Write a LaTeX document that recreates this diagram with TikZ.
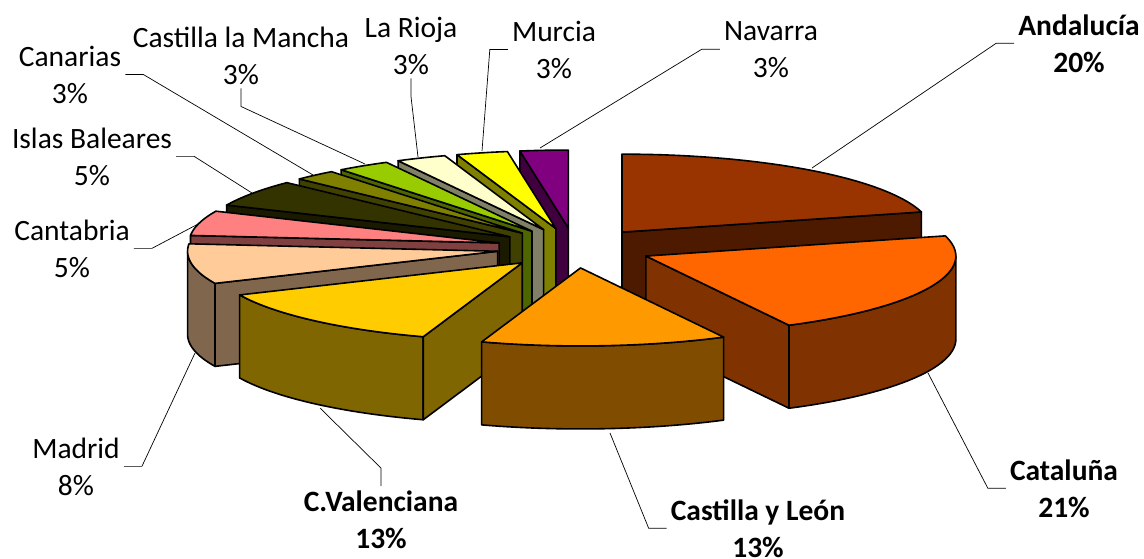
\documentclass[tikz,border=0pt]{standalone}
\usepackage{fontspec}
\setmainfont{Carlito}
\usepackage{tikz}
\definecolor{andtop}{HTML}{993300}\definecolor{andside}{HTML}{4D1A00}
\definecolor{cattop}{HTML}{FF6600}\definecolor{catside}{HTML}{803300}
\definecolor{cyltop}{HTML}{FF9900}\definecolor{cylside}{HTML}{804C00}
\definecolor{cvatop}{HTML}{FFCC00}\definecolor{cvaside}{HTML}{806600}
\definecolor{madtop}{HTML}{FFCC99}\definecolor{madside}{HTML}{80664D}
\definecolor{canttop}{HTML}{FF8080}\definecolor{cantside}{HTML}{804040}
\definecolor{ibtop}{HTML}{333300}\definecolor{ibside}{HTML}{1A1A00}
\definecolor{cantop}{HTML}{808000}\definecolor{canside}{HTML}{404000}
\definecolor{clmtop}{HTML}{99CC00}\definecolor{clmside}{HTML}{4D6600}
\definecolor{lrtop}{HTML}{FFFFCC}\definecolor{lrside}{HTML}{808066}
\definecolor{murtop}{HTML}{FFFF00}\definecolor{murside}{HTML}{808000}
\definecolor{navtop}{HTML}{800080}\definecolor{navside}{HTML}{400040}
\tikzset{
	every node/.style = {font=\fontsize{29.5}{37}\selectfont},
	lbl/.style = {align=center, anchor=base, inner sep=4pt},
	bold/.style = {font=\fontsize{29.5}{37}\selectfont\bfseries},
	slice/.style = {draw=black, line width=1.6pt, line join=round},
	leader/.style = {draw=black, line width=0.7pt}
}
\begin{document}
\begin{tikzpicture}[x=1pt, y=-1pt]
		\useasboundingbox (0,0) rectangle (1144,558);
		% slices, back to front
		\foreach \a/\b/\tc/\sc in {351/360/navtop/navside, 341.4/351/murtop/murside,
			332/341.4/lrtop/lrside, 322/332/clmtop/clmside, 314/322/cantop/canside,
			294/314/ibtop/ibside, 275.5/294/canttop/cantside, 245.7/275.5/madtop/madside,
			0/75/andtop/andside, 75/152.5/cattop/catside, 198.6/245.7/cvatop/cvaside,
			152.5/198.6/cyltop/cylside}{
			\pgfmathsetmacro\cx{574.5+78*sin((\a+\b)/2)}
			\pgfmathsetmacro\cy{248-20*cos((\a+\b)/2)}
			\pgfmathtruncatemacro\fa{(sin(\a))<(-0.01)}
			\pgfmathtruncatemacro\fb{(sin(\b))>(0.01)}
			\pgfmathsetmacro\oa{max(\a,90)}
			\pgfmathsetmacro\ob{min(\b,270)}
			\pgfmathtruncatemacro\fo{\oa<\ob}
			% rim
			\ifnum\fo=1
			\filldraw[slice, fill=\sc] plot[domain=\oa:\ob, samples=30, variable=\t] ({\cx+310*sin(\t)}, {\cy-78*cos(\t)})
				-- plot[domain=\ob:\oa, samples=30, variable=\t] ({\cx+310*sin(\t)}, {\cy-78*cos(\t)+83}) -- cycle;
			\fi
			% cut faces
			\ifnum\fa=1
			\filldraw[slice, fill=\sc] (\cx,\cy) -- ++({310*sin(\a)},{-78*cos(\a)}) -- ++(0,83) -- (\cx,{\cy+83}) -- cycle;
			\fi
			\ifnum\fb=1
			\filldraw[slice, fill=\sc] (\cx,\cy) -- ++({310*sin(\b)},{-78*cos(\b)}) -- ++(0,83) -- (\cx,{\cy+83}) -- cycle;
			\fi
			% top
			\filldraw[slice, fill=\tc] (\cx,\cy) -- plot[domain=\a:\b, samples=30, variable=\t] ({\cx+310*sin(\t)}, {\cy-78*cos(\t)}) -- cycle;
		}
		
		% labels (base = last line)
		\node[lbl] (can) at (70,103) {Canarias\\3\%};
		\node[lbl] (clm) at (241,84) {Castilla la Mancha\\3\%};
		\node[lbl] (lr) at (411,74) {La Rioja\\3\%};
		\node[lbl] (mur) at (554,78) {Murcia\\3\%};
		\node[lbl] (nav) at (771,77) {Navarra\\3\%};
		\node[lbl, bold] (and) at (1079,72) {Andalucía\\20\%};
		\node[lbl] (ib) at (92,185) {Islas Baleares\\5\%};
		\node[lbl] (cant) at (72,277) {Cantabria\\5\%};
		\node[lbl] (mad) at (76,495) {Madrid\\8\%};
		\node[lbl, bold] (cva) at (381,548) {C.Valenciana\\13\%};
		\node[lbl, bold] (cyl) at (758,557) {Castilla y León\\13\%};
		\node[lbl, bold] (cat) at (1064,517) {Cataluña\\21\%};
		
		% leader ends
		\coordinate (canP) at (313,175);
		\coordinate (clmP) at (365,164);
		\coordinate (lrP) at (418,157);
		\coordinate (murP) at (482,151);
		\coordinate (navP) at (540,148);
		\coordinate (andP) at (812,168);
		\coordinate (ibP) at (252,193);
		\coordinate (cantP) at (200,223);
		\coordinate (madP) at (195,353);
		\coordinate (cvaP) at (320,408);
		\coordinate (cylP) at (610,433);
		\coordinate (catP) at (928,373);
		
		\draw[leader] (can.east) -- ++(18,0) -- (canP);
		\draw[leader] (clm.south) -- ++(0,18) -- (clmP);
		\draw[leader] (lr.south) -- ++(0,18) -- (lrP);
		\draw[leader] (mur.west) -- ++(-18,0) -- (murP);
		\draw[leader] (nav.west) -- ++(-18,0) -- (navP);
		\draw[leader] (and.west) -- ++(-18,0) -- (andP);
		\draw[leader] (ib.east) -- ++(18,0) -- (ibP);
		\draw[leader] (cant.east) -- ++(18,0) -- (cantP);
		\draw[leader] (mad.east) -- ++(18,0) -- (madP);
		\draw[leader] (cva.north) -- ++(0,-18) -- (cvaP);
		\draw[leader] (cyl.west) -- ++(-18,0) -- (cylP);
		\draw[leader] (cat.west) -- ++(-18,0) -- (catP);
	\end{tikzpicture}
\end{document}
